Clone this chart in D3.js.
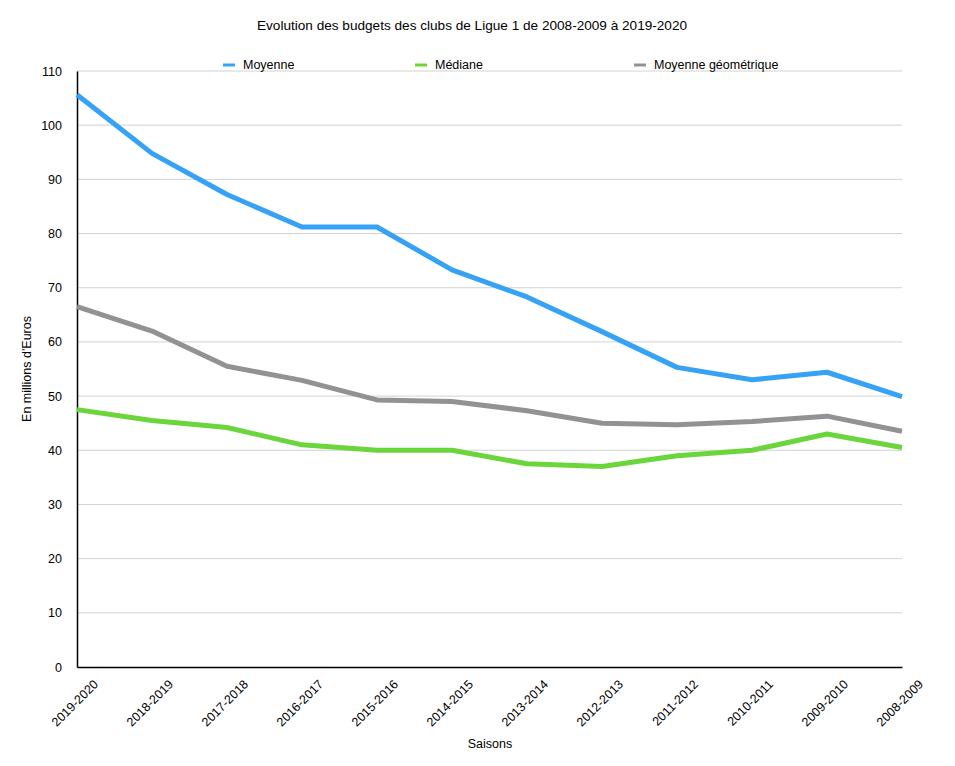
<!DOCTYPE html>
<html>
<head>
<meta charset="utf-8">
<script src="https://cdn.jsdelivr.net/npm/d3@7"></script>
<style>
  body { margin: 0; background: #fff; }
  svg { font-family: "Liberation Sans", Arial, sans-serif; }
</style>
</head>
<body>
<svg id="chart" width="955" height="766"></svg>
<script>
const seasons = ["2019-2020", "2018-2019", "2017-2018", "2016-2017", "2015-2016", "2014-2015",
  "2013-2014", "2012-2013", "2011-2012", "2010-2011", "2009-2010", "2008-2009"];
const moyenne = [105.6, 94.8, 87.2, 81.2, 81.2, 73.3, 68.3, 61.9, 55.3, 53.0, 54.4, 49.9];
const mediane = [47.5, 45.5, 44.2, 41.0, 40.0, 40.0, 37.5, 37.0, 39.0, 40.0, 43.0, 40.5];
const geometrique = [66.5, 62.0, 55.5, 52.9, 49.3, 49.0, 47.3, 45.0, 44.7, 45.3, 46.3, 43.5];
const y_ticks = [0, 10, 20, 30, 40, 50, 60, 70, 80, 90, 100, 110];

const series = [
  { name: "Moyenne", values: moyenne, color: "#36a2f6", legend_x: 223 },
  { name: "Médiane", values: mediane, color: "#6ad63b", legend_x: 415 },
  { name: "Moyenne géométrique", values: geometrique, color: "#929292", legend_x: 634 },
];

const margin = { top: 71, right: 53, bottom: 99, left: 77 };
const width = 955;
const height = 766;

const svg = d3.select("#chart");

const x = d3.scalePoint()
  .domain(seasons)
  .range([margin.left, width - margin.right]);

const y = d3.scaleLinear()
  .domain([0, 110])
  .range([height - margin.bottom, margin.top]);

// grid
svg.append("g")
  .selectAll("line")
  .data(y_ticks.filter((d) => d > 0))
  .join("line")
  .attr("x1", margin.left)
  .attr("x2", width - margin.right)
  .attr("y1", (d) => y(d))
  .attr("y2", (d) => y(d))
  .attr("stroke", "#d2d2d2")
  .attr("stroke-width", 1);

// y axis
const yAxis = svg.append("g")
  .attr("transform", `translate(${margin.left},0)`)
  .call(d3.axisLeft(y).tickValues(y_ticks).tickSize(0).tickPadding(15));
yAxis.select(".domain").attr("stroke", "#000").attr("stroke-width", 1.5);
yAxis.selectAll("text").attr("font-size", 12.5).attr("fill", "#000")
  .attr("font-family", "Liberation Sans, Arial, sans-serif");

// x axis
const xAxis = svg.append("g")
  .attr("transform", `translate(0,${y(0)})`)
  .call(d3.axisBottom(x).tickSize(0).tickFormat(""));
xAxis.select(".domain").attr("stroke", "#000").attr("stroke-width", 1.5);

svg.append("g")
  .selectAll("text")
  .data(seasons)
  .join("text")
  .attr("transform", (d) => `translate(${x(d) + 22},${y(0) + 18}) rotate(-45)`)
  .attr("text-anchor", "end")
  .attr("font-size", 12.5)
  .attr("fill", "#000")
  .text((d) => d);

// lines
const line = d3.line()
  .x((d, i) => x(seasons[i]))
  .y((d) => y(d));

svg.append("g")
  .selectAll("path")
  .data(series.slice().reverse())
  .join("path")
  .attr("fill", "none")
  .attr("stroke", (d) => d.color)
  .attr("stroke-width", 5)
  .attr("stroke-linejoin", "round")
  .attr("d", (d) => line(d.values));

// legend
const legend = svg.append("g")
  .selectAll("g")
  .data(series)
  .join("g")
  .attr("transform", (d) => `translate(${d.legend_x},65)`);
legend.append("line")
  .attr("x1", 0).attr("x2", 12)
  .attr("stroke", (d) => d.color)
  .attr("stroke-width", 3);
legend.append("text")
  .attr("x", 20)
  .attr("dy", "0.35em")
  .attr("font-size", 12.5)
  .text((d) => d.name);

// titles
svg.append("text")
  .attr("x", 472)
  .attr("y", 30)
  .attr("text-anchor", "middle")
  .attr("font-size", 13.6)
  .text("Evolution des budgets des clubs de Ligue 1 de 2008-2009 à 2019-2020");

svg.append("text")
  .attr("x", 490)
  .attr("y", 748)
  .attr("text-anchor", "middle")
  .attr("font-size", 12.5)
  .text("Saisons");

svg.append("text")
  .attr("transform", `translate(31,${(margin.top + y(0)) / 2}) rotate(-90)`)
  .attr("text-anchor", "middle")
  .attr("font-size", 12.5)
  .text("En millions d'Euros");
</script>
</body>
</html>
